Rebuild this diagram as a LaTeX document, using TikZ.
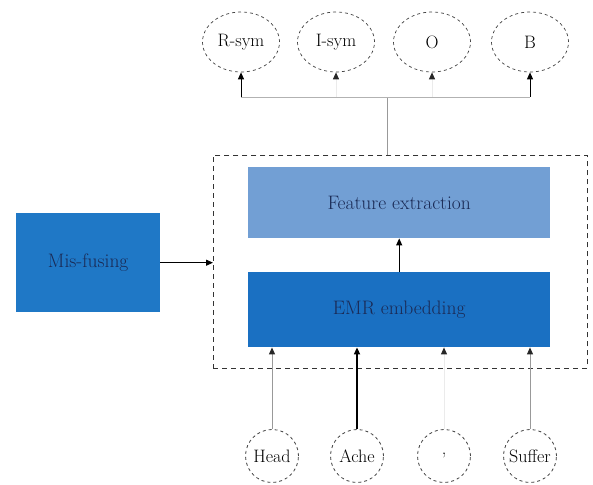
\documentclass[tikz,border=0pt]{standalone}
\usetikzlibrary{arrows.meta,shapes.geometric}
\definecolor{lightbox}{HTML}{729FD4}
\definecolor{darkbox}{HTML}{1A70C2}
\definecolor{midbox}{HTML}{1F78C6}
\definecolor{txt}{HTML}{1A2A55}
\begin{document}
\begin{tikzpicture}[x=1pt,y=-1pt,
  lbl/.style={font=\fontsize{19.5}{23}\selectfont, text=txt},
  tag/.style={ellipse, draw=black!75, dashed, line width=0.7pt, minimum width=77pt, minimum height=60pt, font=\fontsize{18}{21}\selectfont, inner sep=0pt},
  word/.style={circle, draw=black!75, dashed, line width=0.8pt, minimum size=53pt, font=\fontsize{18}{21}\selectfont, inner sep=0pt},
  arr/.style={-{Triangle[length=7pt,width=6pt]}, line width=1pt},
  garr/.style={-{Triangle[length=7pt,width=6pt,color=black!85]}, line width=1pt, draw=black!40},
  farr/.style={-{Triangle[length=7pt,width=6pt,color=black!85]}, line width=1pt, draw=black!8},
]
\useasboundingbox (0,0) rectangle (593,484);
% tags
\node[tag] (rs) at (241,42) {R-sym};
\node[tag] (is) at (336,42) {I-sym};
\node[tag] (o) at (432,42) {O};
\node[tag] (b) at (530,42) {B};
% dashed box
\node[draw=black!80, dash pattern=on 5pt off 4pt, line width=0.9pt, minimum width=374pt, minimum height=213pt, anchor=north west, inner sep=0pt] (frame) at (213,155) {};
% inner boxes
\node[fill=lightbox, minimum width=302pt, minimum height=71pt, anchor=north west, inner sep=0pt, lbl] (fe) at (248,167) {Feature extraction};
\node[fill=darkbox, minimum width=302pt, minimum height=75pt, anchor=north west, inner sep=0pt, lbl] (emr) at (248,272) {EMR embedding};
\node[fill=midbox, minimum width=144pt, minimum height=99pt, anchor=north west, inner sep=0pt, lbl] (mf) at (16,213) {Mis-fusing};
% bottom words
\node[word] (head) at (272,456) {Head};
\node[word] (ache) at (357,456) {Ache};
\node[word] (comma) at (444,456) {,};
\node[word] (suffer) at (530,456) {Suffer};
% connectors
\draw[arr] (emr.north) -- (fe.south);
\draw[arr] (mf.east) -- (frame.west |- mf.east);
\coordinate (split) at (387,97);
\draw[black!40, line width=0.8pt] (frame.north -| split) -- (split);
\draw[black!30, line width=0.8pt] (rs.south |- split) -- (b.south |- split);
\draw[arr] (rs.south |- split) -- (rs.south);
\draw[farr] (is.south |- split) -- (is.south);
\draw[farr] (o.south |- split) -- (o.south);
\draw[arr] (b.south |- split) -- (b.south);
\draw[garr] (head.north) -- (head.north |- emr.south);
\draw[arr, line width=1.6pt] (ache.north) -- (ache.north |- emr.south);
\draw[farr] (comma.north) -- (comma.north |- emr.south);
\draw[garr] (suffer.north) -- (suffer.north |- emr.south);
\end{tikzpicture}
\end{document}
